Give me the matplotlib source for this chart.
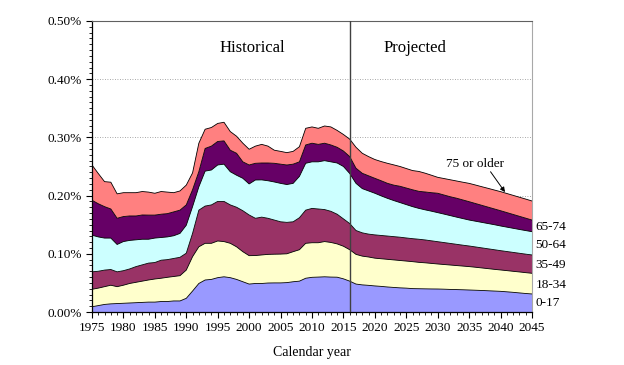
import numpy as np
import matplotlib
matplotlib.use('Agg')
import matplotlib.pyplot as plt
from matplotlib.ticker import MultipleLocator, FuncFormatter

plt.rcParams['font.family'] = ['Liberation Serif', 'DejaVu Serif']

years = np.arange(1975, 2046)

# cumulative tops of each band (percent)
top_0_17 = [
    0.009, 0.011, 0.013, 0.014, 0.0145, 0.015, 0.0155, 0.016, 0.0165, 0.017,
    0.017, 0.018, 0.018, 0.019, 0.019, 0.0235, 0.036, 0.049, 0.055, 0.056,
    0.059, 0.0605, 0.059, 0.056, 0.052, 0.048, 0.049, 0.049, 0.0498, 0.050,
    0.050, 0.0505, 0.052, 0.053, 0.058, 0.0596, 0.060, 0.0605, 0.060, 0.0598,
    0.057, 0.053, 0.048, 0.0466, 0.0458, 0.0448, 0.0440, 0.0430, 0.0422, 0.0415,
    0.041, 0.0402, 0.040, 0.0398, 0.0396, 0.0395, 0.0392, 0.0388, 0.0385, 0.0382,
    0.0378, 0.0374, 0.037, 0.0365, 0.036, 0.0355, 0.0347, 0.0338, 0.0328, 0.0318,
    0.031]
top_18_34 = [
    0.039, 0.041, 0.0435, 0.046, 0.0435, 0.046, 0.049, 0.051, 0.053, 0.055,
    0.0567, 0.058, 0.0596, 0.061, 0.0624, 0.072, 0.095, 0.112, 0.118, 0.118,
    0.122, 0.121, 0.118, 0.112, 0.1036, 0.0968, 0.097, 0.098, 0.099, 0.0993,
    0.0995, 0.100, 0.1036, 0.107, 0.118, 0.119, 0.119, 0.121, 0.1195, 0.117,
    0.113, 0.107, 0.099, 0.096, 0.0945, 0.0925, 0.0915, 0.0905, 0.0895, 0.0885,
    0.0875, 0.0865, 0.0853, 0.0845, 0.0835, 0.0825, 0.0816, 0.0807, 0.0798, 0.0789,
    0.078, 0.0769, 0.0757, 0.0745, 0.0733, 0.0722, 0.0711, 0.0699, 0.0688, 0.0676,
    0.0665]
top_35_49 = [
    0.069, 0.070, 0.072, 0.073, 0.069, 0.071, 0.074, 0.078, 0.081, 0.084,
    0.085, 0.089, 0.090, 0.092, 0.094, 0.101, 0.135, 0.175, 0.182, 0.184,
    0.190, 0.190, 0.184, 0.180, 0.174, 0.1667, 0.161, 0.163, 0.161, 0.158,
    0.155, 0.154, 0.155, 0.162, 0.175, 0.178, 0.177, 0.176, 0.173, 0.168,
    0.160, 0.152, 0.140, 0.136, 0.1338, 0.1325, 0.1315, 0.1305, 0.1295, 0.1285,
    0.1272, 0.126, 0.125, 0.1238, 0.1223, 0.1208, 0.1193, 0.1178, 0.1163, 0.1148,
    0.1134, 0.1118, 0.1102, 0.1086, 0.107, 0.1054, 0.1039, 0.1024, 0.1009, 0.0994,
    0.098]
top_50_64 = [
    0.132, 0.129, 0.127, 0.127, 0.116, 0.121, 0.123, 0.124, 0.125, 0.125,
    0.127, 0.128, 0.129, 0.131, 0.135, 0.149, 0.181, 0.215, 0.242, 0.244,
    0.2526, 0.254, 0.241, 0.235, 0.2297, 0.220, 0.2268, 0.227, 0.2255, 0.2234,
    0.221, 0.219, 0.221, 0.233, 0.2555, 0.258, 0.258, 0.260, 0.258, 0.256,
    0.250, 0.238, 0.221, 0.212, 0.208, 0.204, 0.1995, 0.1953, 0.1915, 0.188,
    0.1845, 0.181, 0.178, 0.1755, 0.1732, 0.1707, 0.1682, 0.1656, 0.163, 0.1605,
    0.158, 0.156, 0.154, 0.152, 0.150, 0.1478, 0.1458, 0.1438, 0.1418, 0.1399,
    0.138]
top_65_74 = [
    0.192, 0.186, 0.181, 0.177, 0.161, 0.164, 0.165, 0.165, 0.1667, 0.1665,
    0.1665, 0.168, 0.169, 0.172, 0.175, 0.184, 0.210, 0.241, 0.281, 0.285,
    0.293, 0.294, 0.278, 0.2727, 0.258, 0.2526, 0.2555, 0.256, 0.256, 0.2555,
    0.254, 0.2526, 0.254, 0.258, 0.287, 0.290, 0.288, 0.290, 0.287, 0.283,
    0.2766, 0.267, 0.247, 0.2383, 0.234, 0.2297, 0.2255, 0.2211, 0.218, 0.216,
    0.213, 0.210, 0.2073, 0.2062, 0.205, 0.204, 0.201, 0.198, 0.1955, 0.1925,
    0.1895, 0.1864, 0.1833, 0.1802, 0.1771, 0.174, 0.1708, 0.1676, 0.1644, 0.1612,
    0.158]
top_75_plus = [
    0.2526, 0.238, 0.224, 0.223, 0.203, 0.205, 0.205, 0.205, 0.207, 0.206,
    0.204, 0.207, 0.206, 0.205, 0.208, 0.218, 0.239, 0.290, 0.314, 0.317,
    0.324, 0.326, 0.310, 0.302, 0.290, 0.2796, 0.285, 0.288, 0.285, 0.278,
    0.276, 0.2738, 0.276, 0.284, 0.3156, 0.318, 0.3156, 0.3196, 0.318, 0.312,
    0.305, 0.297, 0.283, 0.2727, 0.267, 0.262, 0.2585, 0.2555, 0.2528, 0.250,
    0.2465, 0.243, 0.2415, 0.2385, 0.235, 0.2314, 0.2293, 0.2272, 0.2251, 0.223,
    0.221, 0.2182, 0.2153, 0.2125, 0.2096, 0.2068, 0.2036, 0.2004, 0.1972, 0.194,
    0.1907]

tops = [top_0_17, top_18_34, top_35_49, top_50_64, top_65_74, top_75_plus]
colors = ['#9999ff', '#ffffcc', '#993366', '#ccffff', '#660066', '#ff8080']
side_labels = ['0-17', '18-34', '35-49', '50-64', '65-74']
side_label_y = [0.015, 0.0459, 0.080, 0.1146, 0.1455]
last_year_hist = 2016

fig = plt.figure(figsize=(6.24, 3.65), dpi=100)
ax = fig.add_axes([0.1474, 0.1452, 0.7052, 0.7973])

bottom = np.zeros(len(years))
for top, c in zip(tops, colors):
    top = np.array(top)
    ax.fill_between(years, bottom, top, facecolor=c, edgecolor='none', zorder=2)
    ax.plot(years, top, color='black', lw=0.6, zorder=3)
    bottom = top

# grid
for g in [0.1, 0.2, 0.3, 0.4]:
    ax.axhline(g, color='#8c8c8c', lw=0.6, ls=(0, (1, 2)), zorder=1)

ax.axvline(last_year_hist, color='#404040', lw=1.0, zorder=4)

ax.set_xlim(1975, 2045)
ax.set_ylim(0, 0.5)
ax.xaxis.set_major_locator(MultipleLocator(5))
ax.xaxis.set_minor_locator(MultipleLocator(1))
ax.yaxis.set_major_locator(MultipleLocator(0.1))
ax.yaxis.set_minor_locator(MultipleLocator(0.01))
ax.yaxis.set_major_formatter(FuncFormatter(lambda v, p: f'{v:.2f}%'))
ax.tick_params(axis='both', which='major', direction='out', length=4, width=0.8,
               labelsize=9.5, color='black')
ax.tick_params(axis='both', which='minor', direction='out', length=2.5, width=0.6)

for s in ['left', 'bottom']:
    ax.spines[s].set_color('black')
    ax.spines[s].set_linewidth(0.9)
ax.spines['top'].set_color('#606060')
ax.spines['right'].set_color('#a8a8a8')

ax.set_xlabel('Calendar year', fontsize=10, labelpad=8)

ax.text(2000.5, 0.4536, 'Historical', ha='center', va='center', fontsize=12)
ax.text(2026.4, 0.4536, 'Projected', ha='center', va='center', fontsize=12)

ax.text(2035.9, 0.254, '75 or older', ha='center', va='center', fontsize=9.5)
ax.annotate('', xy=(2040.7, 0.206), xytext=(2038.4, 0.241),
            arrowprops=dict(arrowstyle='-|>', color='black', lw=0.7,
                            mutation_scale=7, shrinkA=0, shrinkB=0))

for lab, yv in zip(side_labels, side_label_y):
    ax.text(1.008, yv, lab, transform=ax.get_yaxis_transform(),
            ha='left', va='center', fontsize=9.5)

fig.savefig('out.png', dpi=100)
